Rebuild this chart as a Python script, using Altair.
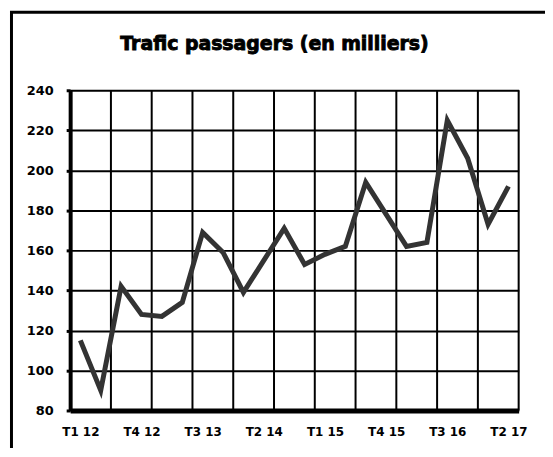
import altair as alt
import pandas as pd

quarters = ["T1 12", "T2 12", "T3 12", "T4 12",
            "T1 13", "T2 13", "T3 13", "T4 13",
            "T1 14", "T2 14", "T3 14", "T4 14",
            "T1 15", "T2 15", "T3 15", "T4 15",
            "T1 16", "T2 16", "T3 16", "T4 16",
            "T1 17", "T2 17"]
values = [115, 90, 142, 128, 127, 134, 169, 159, 139, 155, 171, 153,
          158, 162, 194, 178, 162, 164, 225, 206, 173, 192]
y_ticks = [80, 100, 120, 140, 160, 180, 200, 220, 240]
title_text = "Trafic passagers (en milliers)"

n = len(quarters)
df = pd.DataFrame({"idx": list(range(n)), "quarter": quarters, "value": values})
label_idx = list(range(0, n, 3))
grid_df = pd.DataFrame({"idx": [i - 0.5 for i in range(0, n + 1, 2)]})

label_expr = "[" + ",".join("'%s'" % q for q in quarters) + "][round(datum.value)]"

FONT = "DejaVu Sans"
W, H = 451, 322

xscale = alt.Scale(domain=[-0.5, n - 0.5], nice=False, zero=False)
yscale = alt.Scale(domain=[80, 240], nice=False, zero=False)

xaxis = alt.Axis(values=label_idx, labelExpr=label_expr, title=None,
                 grid=False, ticks=False, domainColor="black",
                 domainWidth=5, labelFont=FONT, labelFontWeight="bold",
                 labelFontSize=12, labelColor="black", labelPadding=16,
                 labelOverlap=False, labelFlush=False)

frame = alt.Chart(pd.DataFrame({"a": [0]})).mark_rect(
    fill=None, stroke="black", strokeWidth=3
).encode(
    x=alt.value(-59), x2=alt.value(700), y=alt.value(-78.5), y2=alt.value(700)
)

title = alt.Chart(pd.DataFrame({"t": [title_text]})).mark_text(
    font=FONT, fontWeight="bold", fontSize=19, color="black",
    stroke="black", strokeWidth=0.9,
    align="center", baseline="alphabetic"
).encode(text="t:N", x=alt.value(205.5), y=alt.value(-40))

vgrid = alt.Chart(grid_df).mark_rule(color="black", strokeWidth=2).encode(
    x=alt.X("idx:Q", scale=xscale, axis=xaxis)
)

line = alt.Chart(df).mark_line(color="#333333", strokeWidth=5).encode(
    x=alt.X("idx:Q", scale=xscale, axis=xaxis),
    y=alt.Y("value:Q", scale=yscale,
            axis=alt.Axis(values=y_ticks, title=None, grid=True,
                          gridColor="black", gridWidth=2, gridOpacity=1,
                          domainColor="black", domainWidth=4,
                          tickColor="black", tickWidth=3, tickSize=4,
                          labelFont=FONT, labelFontWeight="bold",
                          labelFontSize=13, labelColor="black",
                          labelPadding=13))
)

chart = alt.layer(frame, title, vgrid, line).properties(
    width=W, height=H,
    autosize=alt.AutoSizeParams(type="none"),
    padding={"left": 62.5, "top": 81.5, "right": 26.5, "bottom": 36.5},
).configure_view(stroke=None).configure(background="white")

chart.save("out.html", embed_options={"renderer": "svg", "actions": False})
